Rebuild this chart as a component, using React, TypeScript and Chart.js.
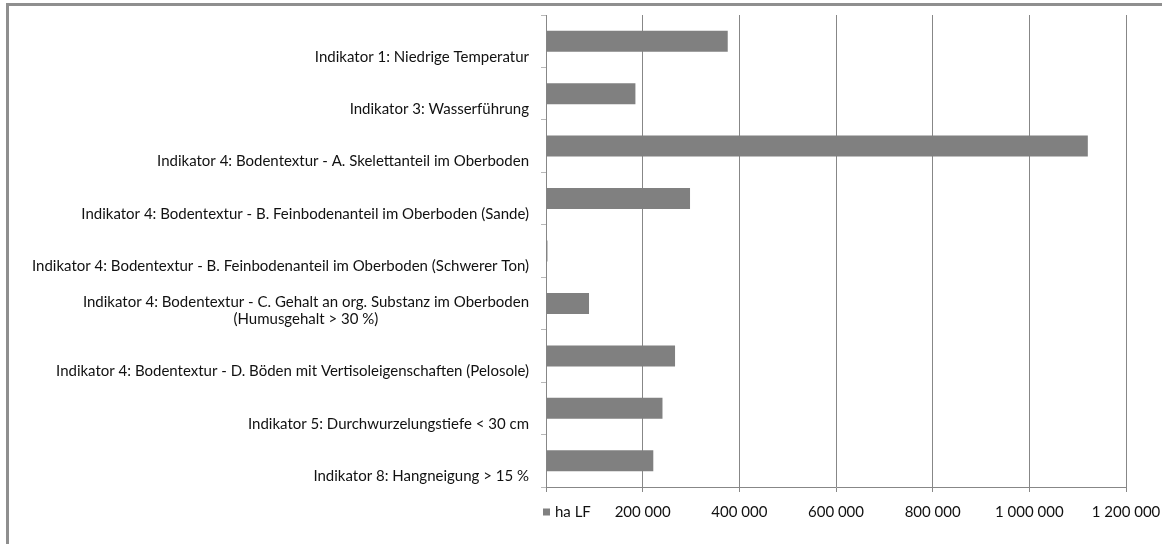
import React, { useEffect, useRef } from "react";
import { Chart, registerables } from "chart.js";

Chart.register(...registerables);

const categories: (string | string[])[] = [
  "Indikator 1: Niedrige Temperatur",
  "Indikator 3: Wasserführung",
  "Indikator 4: Bodentextur - A. Skelettanteil im Oberboden",
  "Indikator 4: Bodentextur - B. Feinbodenanteil im Oberboden (Sande)",
  "Indikator 4: Bodentextur - B. Feinbodenanteil im Oberboden (Schwerer Ton)",
  ["Indikator 4: Bodentextur - C. Gehalt an org. Substanz im Oberboden", "(Humusgehalt > 30 %)"],
  "Indikator 4: Bodentextur - D. Böden mit Vertisoleigenschaften (Pelosole)",
  "Indikator 5: Durchwurzelungstiefe < 30 cm",
  "Indikator 8: Hangneigung > 15 %",
];

const seriesName = "ha LF";
const haLF = [376000, 185000, 1121000, 298000, 3000, 89000, 267000, 241000, 222000];

const xMin = 0;
const xMax = 1200000;
const xStep = 200000;

const FONT = "Lato, 'Open Sans', sans-serif";
const FONT_SIZE = 15;
const TEXT = "#111111";
const BAR = "#808080";
const GRID = "#878787";

function fmt(v: number): string {
  if (v === 0) return "";
  return String(Math.round(v)).replace(/\B(?=(\d{3})+(?!\d))/g, " ");
}

const yLabelPlugin = {
  id: "yLabels",
  afterDraw(chart: any) {
    const scale = chart.scales.y;
    const ctx = chart.ctx as CanvasRenderingContext2D;
    const labels = chart.data.labels as (string | string[])[];
    ctx.save();
    ctx.font = `${FONT_SIZE}px ${FONT}`;
    ctx.fillStyle = TEXT;
    ctx.textBaseline = "middle";
    const right = chart.chartArea.left - 17;
    const lineH = 16.5;
    labels.forEach((lab, i) => {
      const lines = Array.isArray(lab) ? lab : [lab];
      const y = scale.getPixelForTick(i) + 15.5;
      if (lines.length === 1) {
        ctx.textAlign = "right";
        ctx.fillText(lines[0], right, y);
      } else {
        const widest = Math.max(...lines.map((l) => ctx.measureText(l).width));
        const cx = right - widest / 2;
        ctx.textAlign = "center";
        lines.forEach((l, k) => ctx.fillText(l, cx, y - (lines.length - 1 - k) * lineH));
      }
    });
    ctx.restore();
  },
};

const legendPlugin = {
  id: "inlineLegend",
  afterDraw(chart: any) {
    const ctx = chart.ctx as CanvasRenderingContext2D;
    const ds = chart.data.datasets[0];
    const xs = chart.scales.x;
    const y = xs.top + 25;
    const left = chart.chartArea.left - 3;
    ctx.save();
    ctx.fillStyle = ds.backgroundColor;
    ctx.fillRect(left, y - 3.5, 7, 7);
    ctx.font = `${FONT_SIZE}px ${FONT}`;
    ctx.fillStyle = TEXT;
    ctx.textBaseline = "middle";
    ctx.textAlign = "left";
    ctx.fillText(ds.label, left + 12, y);
    ctx.restore();
  },
};

export default function App() {
  const ref = useRef<HTMLCanvasElement | null>(null);

  useEffect(() => {
    if (!ref.current) return;
    const chart = new Chart(ref.current, {
      type: "bar",
      data: {
        labels: categories as any,
        datasets: [
          {
            label: seriesName,
            data: haLF,
            backgroundColor: BAR,
            borderWidth: 0,
            barPercentage: 0.4,
            categoryPercentage: 1,
          },
        ],
      },
      options: {
        indexAxis: "y",
        animation: false,
        responsive: true,
        maintainAspectRatio: false,
        layout: { padding: { top: 15, right: 36, bottom: 0, left: 0 } },
        plugins: {
          legend: { display: false },
          tooltip: { enabled: false },
        },
        scales: {
          x: {
            type: "linear",
            min: xMin,
            max: xMax,
            ticks: {
              stepSize: xStep,
              callback: (v: any) => fmt(Number(v)),
              font: { family: FONT, size: FONT_SIZE },
              color: TEXT,
              padding: 11,
              maxRotation: 0,
            },
            grid: { color: GRID, lineWidth: 1, drawTicks: true, tickLength: 5 },
            border: { display: true, color: GRID, width: 1 },
            afterFit: (s: any) => {
              s.height = 57;
              s.paddingLeft = 0;
              s.paddingRight = 0;
            },
          },
          y: {
            type: "category",
            offset: true,
            ticks: { display: false },
            grid: {
              offset: true,
              drawOnChartArea: false,
              drawTicks: true,
              tickLength: 5,
              color: "#b8b8b8",
            },
            border: { display: true, color: GRID, width: 1 },
            afterFit: (s: any) => {
              s.width = 546;
              s.paddingTop = 0;
              s.paddingBottom = 0;
            },
          },
        },
      },
      plugins: [yLabelPlugin, legendPlugin],
    });
    return () => chart.destroy();
  }, []);

  return (
    <div
      style={{
        position: "fixed",
        left: 0,
        top: 0,
        width: 1162,
        height: 544,
        overflow: "hidden",
        background: "#ffffff",
      }}
    >
      <div
        style={{
          position: "absolute",
          left: 6,
          top: 3,
          width: 1300,
          height: 700,
          border: "3px solid #8f8f8f",
          boxSizing: "border-box",
        }}
      />
      <canvas ref={ref} style={{ position: "absolute", left: 0, top: 0, width: 1162, height: 544 }} />
    </div>
  );
}
